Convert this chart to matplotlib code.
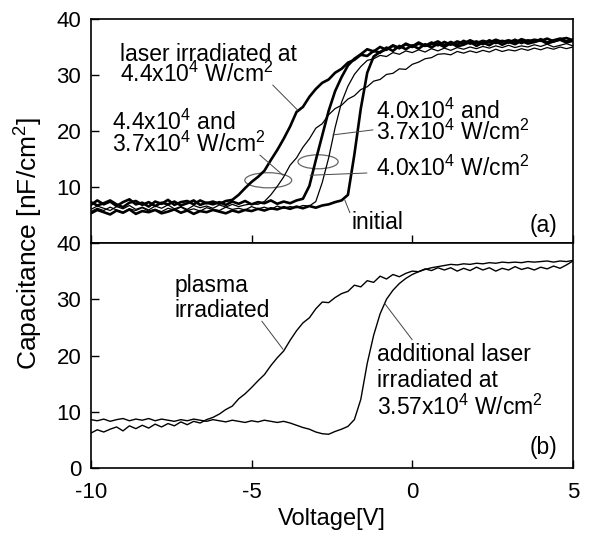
import numpy as np
import matplotlib
matplotlib.use("Agg")
import matplotlib.pyplot as plt
from matplotlib.patches import Ellipse

plt.rcParams['font.family'] = ['Liberation Sans', 'DejaVu Sans']
plt.rcParams['mathtext.fontset'] = 'custom'
plt.rcParams['mathtext.rm'] = 'Liberation Sans'
plt.rcParams['mathtext.default'] = 'regular'
plt.rcParams['axes.unicode_minus'] = False

# voltage sweep, 0.2 V step from -10 V to 5 V
VOLTAGE = np.linspace(-10, 5, 76)

# (a) laser irradiated samples
laser_44 = [6.8, 7.6, 6.9, 7.4, 6.6, 7.3, 7.8, 6.9, 7.2, 6.5,
            7.4, 7.0, 7.7, 6.8, 7.3, 7.5, 6.9, 7.6, 7.1, 7.4,
            7.0, 7.5, 7.7, 8.6, 9.8, 10.9, 11.8, 12.9, 14.8, 16.6,
            18.6, 20.8, 23.4, 24.3, 26.1, 27.5, 28.6, 29.2, 30.4, 31.1,
            32.2, 32.7, 33.6, 33.4, 34.3, 34.0, 34.9, 34.3, 35.2, 34.6,
            35.3, 34.7, 35.5, 34.9, 35.6, 35.0, 35.7, 35.1, 35.4, 35.9,
            35.2, 35.8, 35.3, 36.0, 35.4, 35.9, 35.5, 36.1, 35.6, 35.9,
            36.2, 35.6, 36.0, 36.3, 35.8, 36.1]
laser_44_37 = [6.0, 6.6, 6.2, 5.8, 6.5, 6.1, 6.7, 6.0, 6.4, 5.9,
               6.6, 6.2, 6.8, 6.1, 6.5, 6.0, 6.7, 6.3, 6.6, 6.2,
               6.8, 6.4, 6.9, 6.5, 6.8, 7.0, 6.9, 7.4, 8.6, 10.1,
               11.8, 13.9, 15.2, 17.1, 18.6, 20.5, 21.3, 22.9, 24.0, 24.6,
               25.7, 26.3, 27.4, 27.9, 28.9, 29.2, 30.1, 30.3, 31.1, 31.0,
               31.9, 32.3, 32.9, 33.1, 33.7, 33.8, 33.6, 34.2, 33.9, 34.3,
               34.0, 34.4, 34.1, 34.6, 34.2, 34.5, 34.3, 34.7, 34.4, 34.8,
               34.5, 34.9, 34.6, 35.0, 34.7, 35.0]
laser_40 = [7.3, 6.7, 7.1, 7.6, 6.9, 6.4, 7.2, 7.5, 6.8, 7.3,
            6.6, 7.2, 6.9, 7.4, 6.7, 7.1, 7.6, 6.8, 7.2, 6.9,
            7.3, 6.8, 7.4, 7.0, 7.5, 6.9, 7.3, 7.1, 7.6, 7.0,
            7.4, 7.1, 7.6, 7.9, 10.2, 14.8, 19.2, 23.6, 27.1, 29.6,
            31.7, 32.9, 33.7, 34.6, 34.2, 35.0, 34.5, 35.3, 34.8, 35.6,
            35.1, 35.8, 35.2, 35.5, 36.0, 35.3, 35.9, 35.4, 36.1, 35.6,
            36.0, 35.5, 36.2, 35.7, 36.1, 35.8, 36.3, 35.7, 36.2, 35.9,
            36.4, 35.8, 36.2, 36.5, 36.0, 36.3]
laser_40_37 = [5.6, 6.2, 5.8, 6.4, 5.9, 5.5, 6.1, 5.8, 6.3, 5.7,
               6.0, 5.6, 6.2, 5.9, 6.4, 5.8, 6.1, 5.7, 6.3, 6.0,
               5.8, 6.4, 6.0, 6.2, 5.9, 6.5, 6.1, 6.4, 6.0, 6.6,
               6.2, 6.5, 6.3, 6.7, 6.6, 7.4, 10.8, 15.2, 20.6, 25.1,
               28.0, 30.1, 31.5, 32.6, 32.9, 33.5, 33.3, 34.0, 33.7, 34.3,
               34.0, 34.5, 34.1, 34.7, 34.3, 34.8, 34.4, 34.9, 34.6, 35.0,
               34.7, 35.1, 34.8, 35.2, 34.9, 35.3, 34.9, 35.2, 35.0, 35.4,
               35.1, 35.5, 35.0, 35.3, 35.6, 35.2]
initial = [5.3, 5.9, 5.5, 5.1, 5.8, 5.4, 6.0, 5.2, 5.7, 5.5,
           5.9, 5.3, 5.6, 6.0, 5.4, 5.8, 5.2, 5.7, 5.5, 5.9,
           5.6, 5.3, 5.8, 5.5, 5.9, 5.7, 6.1, 5.8, 6.2, 6.0,
           6.4, 6.1, 6.5, 6.2, 6.6, 6.3, 6.7, 6.9, 7.3, 7.6,
           8.6, 15.8, 24.0, 30.4, 33.3, 34.1, 34.6, 35.2, 34.8, 35.5,
           35.0, 35.6, 35.2, 35.8, 35.3, 35.9, 35.4, 36.0, 35.6, 36.2,
           35.7, 36.1, 35.8, 36.3, 35.9, 36.2, 35.8, 36.4, 36.0, 36.3,
           36.1, 36.5, 36.0, 36.4, 36.6, 36.2]

# (b) plasma irradiated, then additional laser
plasma = [6.2, 6.8, 6.4, 6.9, 7.3, 6.6, 7.5, 7.0, 7.6, 7.1,
          7.8, 7.3, 7.9, 7.5, 8.2, 7.7, 8.3, 8.0, 8.6, 9.0,
          9.6, 10.4, 11.0, 12.3, 13.2, 14.3, 15.5, 16.6, 18.2, 19.6,
          20.8, 22.7, 24.4, 25.8, 26.7, 28.3, 29.5, 29.4, 30.3, 31.0,
          31.4, 32.5, 32.2, 33.3, 33.0, 34.1, 33.6, 34.4, 34.0, 34.6,
          35.0, 34.9, 35.4, 35.1, 35.6, 35.2, 35.6, 35.0, 35.5, 35.1,
          35.7, 35.2, 35.6, 35.0, 35.5, 35.2, 35.8, 35.3, 35.6, 35.2,
          35.7, 35.4, 35.9, 35.5, 36.1, 36.8]
additional_laser = [8.6, 8.4, 8.7, 8.3, 8.6, 8.8, 8.4, 8.7, 8.5, 8.8,
                    8.4, 8.7, 8.5, 8.3, 8.6, 8.4, 8.7, 8.5, 8.3, 8.6,
                    8.4, 8.2, 8.5, 8.3, 8.1, 8.4, 8.2, 8.5, 8.3, 8.1,
                    8.3, 8.0, 7.6, 7.2, 6.9, 6.4, 6.1, 6.0, 6.5, 6.9,
                    7.4, 8.6, 12.2, 18.6, 23.6, 27.4, 30.0, 31.6, 32.8, 33.7,
                    34.4, 34.9, 35.3, 35.6, 35.8, 36.0, 36.2, 36.1, 36.3, 36.2,
                    36.4, 36.3, 36.5, 36.4, 36.6, 36.5, 36.6, 36.5, 36.7, 36.6,
                    36.7, 36.8, 36.6, 36.8, 36.7, 36.9]

THICK = 1.9
THIN = 0.9
FS = 16.5
LEADER = dict(arrowstyle='-', color='#444444', lw=0.7, shrinkA=0, shrinkB=0)

fig = plt.figure(figsize=(5.9, 5.35), dpi=100)
ax_a = fig.add_axes([0.154, 0.5458, 0.817, 0.4187])
ax_b = fig.add_axes([0.154, 0.1252, 0.817, 0.4206])

ax_a.plot(VOLTAGE, initial, color='black', lw=THICK)
ax_a.plot(VOLTAGE, laser_40_37, color='black', lw=THIN)
ax_a.plot(VOLTAGE, laser_40, color='black', lw=THICK)
ax_a.plot(VOLTAGE, laser_44_37, color='black', lw=THIN)
ax_a.plot(VOLTAGE, laser_44, color='black', lw=THICK)

ax_b.plot(VOLTAGE, plasma, color='black', lw=1.0)
ax_b.plot(VOLTAGE, additional_laser, color='black', lw=1.0)

for ax in (ax_a, ax_b):
    ax.set_xlim(-10, 5)
    ax.set_ylim(0, 40)
    ax.set_xticks([-10, -5, 0, 5])
    ax.tick_params(direction='in', length=6, width=1, labelsize=16)
    ax.tick_params(axis='y', pad=7)
    ax.tick_params(axis='x', pad=10)
    for s in ax.spines.values():
        s.set_linewidth(1.2)

ax_a.set_yticks([10, 20, 30, 40])
ax_a.tick_params(axis='x', labelbottom=False)
ax_b.set_yticks([0, 10, 20, 30, 40])
ax_b.set_xlabel('Voltage[V]', fontsize=17, labelpad=4)
fig.text(0.049, 0.545, 'Capacitance [nF/cm$^2$]', rotation=90,
         ha='center', va='center', fontsize=19)

# annotations, panel (a)
ax_a.text(-9.1, 31.8, 'laser irradiated at\n4.4x10$^4$ W/cm$^2$',
          ha='left', va='center', fontsize=FS, linespacing=0.8)
ax_a.annotate('', xy=(-3.56, 23.7), xytext=(-4.34, 28.2), arrowprops=LEADER)

ax_a.text(-9.35, 19.6, '4.4x10$^4$ and\n3.7x10$^4$ W/cm$^2$',
          ha='left', va='center', fontsize=FS, linespacing=0.8)
ax_a.annotate('', xy=(-4.02, 12.1), xytext=(-4.74, 15.7), arrowprops=LEADER)
ax_a.add_patch(Ellipse((-4.48, 11.2), 1.46, 2.7, fill=False,
                       edgecolor='#666666', lw=0.9))

ax_a.text(-1.13, 21.6, '4.0x10$^4$ and\n3.7x10$^4$ W/cm$^2$',
          ha='left', va='center', fontsize=FS, linespacing=0.8)
ax_a.annotate('', xy=(-2.47, 19.3), xytext=(-1.22, 20.2), arrowprops=LEADER)
ax_a.add_patch(Ellipse((-2.93, 14.5), 1.25, 2.5, fill=False,
                       edgecolor='#666666', lw=0.9))

ax_a.text(-1.13, 13.4, '4.0x10$^4$ W/cm$^2$', ha='left', va='center', fontsize=FS)
ax_a.annotate('', xy=(-3.18, 12.1), xytext=(-1.41, 12.5), arrowprops=LEADER)

ax_a.text(-1.9, 3.7, 'initial', ha='left', va='center', fontsize=FS)
ax_a.annotate('', xy=(-2.1, 7.7), xytext=(-1.94, 5.4), arrowprops=LEADER)

ax_a.text(4.07, 3.2, '(a)', ha='center', va='center', fontsize=FS)

# annotations, panel (b)
ax_b.text(-7.39, 30.2, 'plasma\nirradiated', ha='left', va='center',
          fontsize=FS, linespacing=1.15)
ax_b.annotate('', xy=(-4.02, 21.1), xytext=(-4.68, 26.1), arrowprops=LEADER)

ax_b.text(-1.1, 15.4, 'additional laser\nirradiated at\n3.57x10$^4$ W/cm$^2$',
          ha='left', va='center', fontsize=FS, linespacing=1.15)
ax_b.annotate('', xy=(-0.85, 29.2), xytext=(0.0, 22.8), arrowprops=LEADER)

ax_b.text(4.07, 3.6, '(b)', ha='center', va='center', fontsize=FS)

fig.savefig('out.png', dpi=100)
